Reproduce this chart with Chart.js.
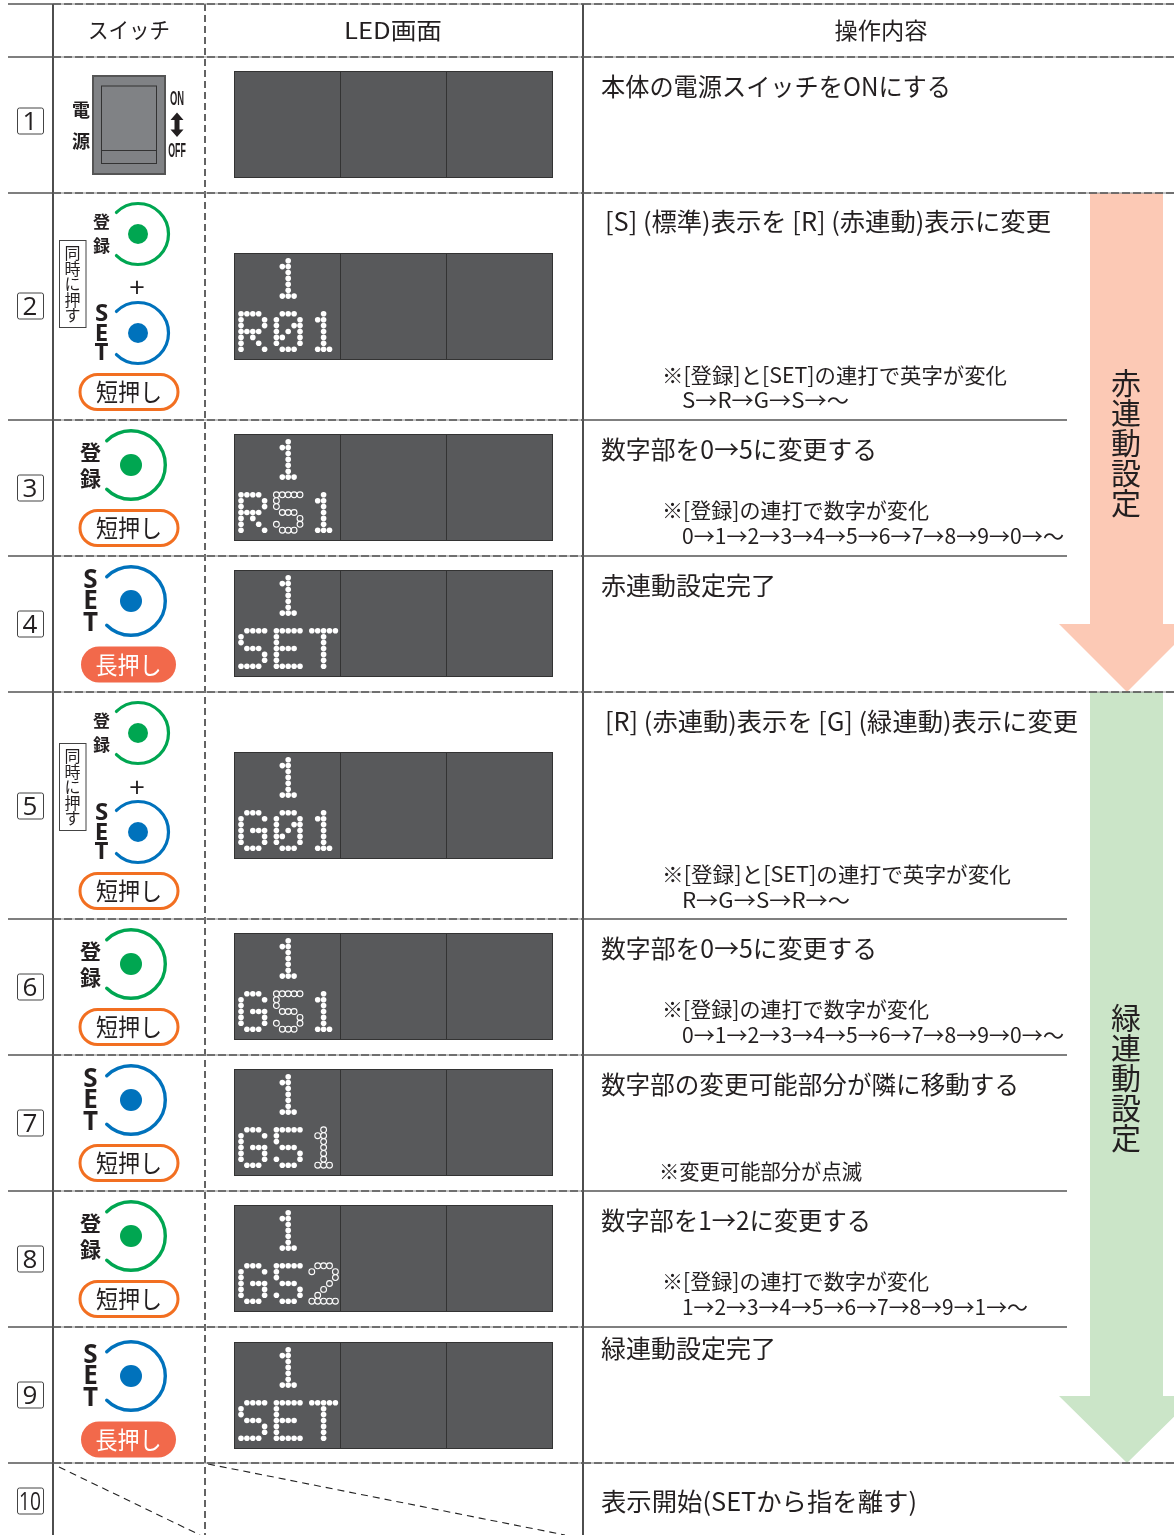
<!DOCTYPE html>
<html>
<head>
<meta charset="utf-8">
<style>
  html, body { margin: 0; padding: 0; background: #fff; }
  canvas { display: block; }
</style>
<script src="https://cdn.jsdelivr.net/npm/chart.js@4"></script>
</head>
<body>
<canvas id="canvas-1" width="1174" height="1535"></canvas>
<script>
// table content
var headers = ['スイッチ', 'LED画面', '操作内容'];
var stepNos = ['1', '2', '3', '4', '5', '6', '7', '8', '9', '10'];
var stepTitles = [
  '本体の電源スイッチをONにする',
  '[S] (標準)表示を [R] (赤連動)表示に変更',
  '数字部を0→5に変更する',
  '赤連動設定完了',
  '[R] (赤連動)表示を [G] (緑連動)表示に変更',
  '数字部を0→5に変更する',
  '数字部の変更可能部分が隣に移動する',
  '数字部を1→2に変更する',
  '緑連動設定完了',
  '表示開始(SETから指を離す)'
];
var noteLines = [
  '※[登録]と[SET]の連打で英字が変化',
  'S→R→G→S→～',
  '※[登録]の連打で数字が変化',
  '0→1→2→3→4→5→6→7→8→9→0→～',
  '※[登録]と[SET]の連打で英字が変化',
  'R→G→S→R→～',
  '※[登録]の連打で数字が変化',
  '0→1→2→3→4→5→6→7→8→9→0→～',
  '※変更可能部分が点滅',
  '※[登録]の連打で数字が変化',
  '1→2→3→4→5→6→7→8→9→1→～'
];
var ledTexts = ['', 'R01', 'R51', 'SET', 'G01', 'G51', 'G51', 'G52', 'SET'];
var ledBlink = [-1, -1, 1, -1, -1, 1, 2, 2, -1];
var sideLabels = ['赤連動設定', '緑連動設定'];

// 5x7 led font
var glyphs = {
  '1': ['..#..', '.##..', '..#..', '..#..', '..#..', '..#..', '.###.'],
  '2': ['.###.', '#...#', '....#', '...#.', '..#..', '.#...', '#####'],
  '0': ['.###.', '#...#', '#..##', '#.#.#', '##..#', '#...#', '.###.'],
  '5': ['#####', '#....', '#....', '.###.', '....#', '#...#', '.###.'],
  'R': ['####.', '#...#', '#...#', '####.', '#.#..', '#..#.', '#...#'],
  'G': ['.###.', '#...#', '#....', '#.###', '#...#', '#...#', '.###.'],
  'S': ['.####', '#....', '#....', '.###.', '....#', '....#', '####.'],
  'E': ['#####', '#....', '#....', '####.', '#....', '#....', '#####'],
  'T': ['#####', '..#..', '..#..', '..#..', '..#..', '..#..', '..#..']
};

// layout
var rowEdges = [4, 57, 193, 420, 556, 692, 919, 1055, 1191, 1327, 1463];
var fullRules = [4, 57, 193, 692, 1463];
var noBoxY = [121, 306, 488, 624, 806, 987, 1123, 1259, 1395, 1501];
var titleX = [601, 605, 601, 601, 605, 601, 601, 601, 601, 601];
var titleY = [86, 221, 449, 585, 721, 948, 1084, 1220, 1348, 1501];
var titleW = [350, 446, 276, 175, 473, 276, 418, 270, 175, 316];
var noteX = [662, 682, 662, 682, 662, 682, 662, 682, 659, 662, 682];
var noteY = [375, 400, 510, 536, 874, 900, 1009, 1035, 1171, 1281, 1307];
var noteW = [345, 167, 267, 382, 349, 168, 267, 382, 203, 267, 346];
var panelTop = [71, 253, 434, 570, 752, 933, 1069, 1205, 1342];
var panelX = [234, 340, 446, 553];
var panelH = 107;
var dotStart = [241, 7.7];
var dotPitch = 5.9;
var ringsSmall = [['reg', 138, 234], ['set', 138, 333], ['reg', 138, 733], ['set', 138, 832]];
var ringsLarge = [['reg', 131, 465], ['set', 131, 601], ['reg', 131, 964], ['set', 131, 1100], ['reg', 131, 1236], ['set', 131, 1376]];
var shortPress = [392, 528, 891, 1027, 1163, 1299];
var longPress = [664.5, 1439.5];
var togetherTop = [240, 743];
var plusY = [289, 789];
var arrowSpan = [[193, 624, 692], [692, 1396, 1463]];
var arrowColors = ['#fcc9b5', '#cbe5c8'];
var sideLabelTop = [383, 1018];

var JP = '"Noto Sans CJK JP"';
var INK = '#231f20';
var GREEN = '#00a651';
var BLUE = '#0072bc';
var PANEL = '#58595b';

function seg(x1, y1, x2, y2, color, width, dash) {
  return {
    data: [{x: x1, y: y1}, {x: x2, y: y2}],
    showLine: true,
    borderColor: color,
    borderWidth: width,
    borderDash: dash || [],
    pointRadius: 0,
    tension: 0
  };
}

var datasets = [];

// rules of the table
rowEdges.forEach(function (y) {
  var end = fullRules.indexOf(y) >= 0 ? 1174 : 1067;
  datasets.push(seg(8, y, 53, y, '#555', 1.3));
  datasets.push(seg(53, y, 583, y, '#888', 1));
  datasets.push(seg(53, y, 583, y, '#222', 1.3, [8, 3]));
  if (fullRules.indexOf(y) >= 0) {
    datasets.push(seg(583, y, end, y, '#888', 1));
    datasets.push(seg(583, y, end, y, '#222', 1.3, [8, 3]));
  } else {
    datasets.push(seg(583, y, end, y, '#555', 1.3));
  }
});
datasets.push(seg(53, 4, 53, 1535, '#222', 1.6));
datasets.push(seg(583, 4, 583, 1535, '#222', 1.6));
datasets.push(seg(205, 4, 205, 1535, '#222', 1.4, [7, 4]));
datasets.push(seg(59, 1467, 200, 1535, '#222', 1.1, [7, 5]));
datasets.push(seg(208, 1464, 565, 1535, '#222', 1.1, [7, 5]));

// led dots
var solidDots = [];
var hollowDots = [];
function putGlyph(ch, col, top, list) {
  glyphs[ch].forEach(function (line, r) {
    for (var c = 0; c < line.length; c++) {
      if (line[c] === '#') {
        list.push({x: dotStart[0] + (col + c) * dotPitch, y: top + dotStart[1] + r * dotPitch});
      }
    }
  });
}
ledTexts.forEach(function (txt, i) {
  if (!txt) return;
  putGlyph('1', 6, panelTop[i], solidDots);
  txt.split('').forEach(function (ch, k) {
    var list = ledBlink[i] === k ? hollowDots : solidDots;
    putGlyph(ch, k * 6, panelTop[i] + 9 * dotPitch, list);
  });
});
datasets.push({data: solidDots, pointRadius: 2.8, pointBackgroundColor: '#fff', pointBorderWidth: 0, showLine: false});
datasets.push({data: hollowDots, pointRadius: 2.9, pointBackgroundColor: PANEL, pointBorderColor: '#fff', pointBorderWidth: 1.1, showLine: false});

// centre of the buttons
function ringDots(list, radius) {
  ['reg', 'set'].forEach(function (kind) {
    datasets.push({
      data: list.filter(function (b) { return b[0] === kind; }).map(function (b) { return {x: b[1], y: b[2]}; }),
      pointRadius: radius,
      pointBackgroundColor: kind === 'reg' ? GREEN : BLUE,
      pointBorderWidth: 0,
      showLine: false
    });
  });
}
ringDots(ringsSmall, 10);
ringDots(ringsLarge, 11);

var underlay = {
  id: 'underlay',
  beforeDatasetsDraw: function (chart) {
    var ctx = chart.ctx;
    var X = function (v) { return chart.scales.x.getPixelForValue(v); };
    var Y = function (v) { return chart.scales.y.getPixelForValue(v); };
    ctx.save();

    // side arrows
    arrowSpan.forEach(function (a, i) {
      ctx.fillStyle = arrowColors[i];
      ctx.beginPath();
      ctx.moveTo(X(1090), Y(a[0]));
      ctx.lineTo(X(1163), Y(a[0]));
      ctx.lineTo(X(1163), Y(a[1]));
      ctx.lineTo(X(1195), Y(a[1]));
      ctx.lineTo(X(1127), Y(a[2]));
      ctx.lineTo(X(1059), Y(a[1]));
      ctx.lineTo(X(1090), Y(a[1]));
      ctx.closePath();
      ctx.fill();
    });

    // led panels
    panelTop.forEach(function (top) {
      ctx.fillStyle = PANEL;
      ctx.fillRect(X(panelX[0]), Y(top), X(panelX[3]) - X(panelX[0]), panelH);
      ctx.strokeStyle = '#333';
      ctx.lineWidth = 1;
      ctx.strokeRect(X(panelX[0]) + 0.5, Y(top) + 0.5, X(panelX[3]) - X(panelX[0]) - 1, panelH - 1);
      [1, 2].forEach(function (k) {
        ctx.beginPath();
        ctx.moveTo(X(panelX[k]) + 0.5, Y(top));
        ctx.lineTo(X(panelX[k]) + 0.5, Y(top + panelH));
        ctx.stroke();
      });
    });
    ctx.restore();
  }
};

function drawText(ctx, str, x, y, font, color, align, width, squeeze) {
  ctx.save();
  ctx.font = font;
  ctx.fillStyle = color;
  ctx.textBaseline = 'middle';
  ctx.textAlign = align || 'left';
  ctx.translate(x, y);
  if (width) {
    ctx.scale(width / ctx.measureText(str).width, 1);
  } else if (squeeze) {
    ctx.scale(squeeze, 1);
  }
  ctx.fillText(str, 0, 0);
  ctx.restore();
}

var overlay = {
  id: 'overlay',
  afterDatasetsDraw: function (chart) {
    var ctx = chart.ctx;
    var X = function (v) { return chart.scales.x.getPixelForValue(v); };
    var Y = function (v) { return chart.scales.y.getPixelForValue(v); };
    ctx.save();

    // header
    drawText(ctx, headers[0], X(129), Y(30), '22px ' + JP, INK, 'center', 82);
    drawText(ctx, headers[1], X(393), Y(30), '23px ' + JP, INK, 'center', 98);
    drawText(ctx, headers[2], X(881), Y(30), '23px ' + JP, INK, 'center', 93);

    // step numbers
    stepNos.forEach(function (n, i) {
      ctx.strokeStyle = '#444';
      ctx.lineWidth = 1;
      ctx.beginPath();
      ctx.roundRect(X(17) + 0.5, Y(noBoxY[i] - 13.5) + 0.5, 26, 26, 2);
      ctx.stroke();
      drawText(ctx, n, X(30), Y(noBoxY[i] + 1.5), '26px "Open Sans"', INK, 'center', n.length > 1 ? 22 : 0);
    });

    // right column texts
    stepTitles.forEach(function (t, i) {
      drawText(ctx, t, X(titleX[i]), Y(titleY[i]), '25px ' + JP, INK, 'left', titleW[i]);
    });
    noteLines.forEach(function (t, i) {
      drawText(ctx, t, X(noteX[i]), Y(noteY[i]), '21px ' + JP, INK, 'left', noteW[i]);
    });

    // labels on the arrows
    sideLabels.forEach(function (label, i) {
      label.split('').forEach(function (ch, k) {
        drawText(ctx, ch, X(1126), Y(sideLabelTop[i] + k * 30), '30px ' + JP, INK, 'center');
      });
    });

    // power switch
    ctx.fillStyle = '#808285';
    ctx.strokeStyle = '#555';
    ctx.lineWidth = 2;
    ctx.fillRect(X(93), Y(76), 72, 98);
    ctx.strokeRect(X(93), Y(76), 72, 98);
    ctx.strokeStyle = '#333';
    ctx.lineWidth = 1;
    ctx.strokeRect(X(101.5), Y(86), 55, 77.5);
    ctx.beginPath();
    ctx.moveTo(X(101.5), Y(150.5));
    ctx.lineTo(X(156.5), Y(150.5));
    ctx.stroke();
    drawText(ctx, '電', X(81), Y(110), 'bold 18px ' + JP, INK, 'center');
    drawText(ctx, '源', X(81), Y(141), 'bold 18px ' + JP, INK, 'center');
    drawText(ctx, 'ON', X(177), Y(99.5), 'bold 20px "Liberation Sans"', INK, 'center', 0, 0.47);
    drawText(ctx, 'OFF', X(177), Y(151.5), 'bold 20px "Liberation Sans"', INK, 'center', 0, 0.44);
    ctx.fillStyle = INK;
    ctx.beginPath();
    ctx.moveTo(X(177), Y(112.5));
    ctx.lineTo(X(183.5), Y(120));
    ctx.lineTo(X(179.5), Y(120));
    ctx.lineTo(X(179.5), Y(129.5));
    ctx.lineTo(X(183.5), Y(129.5));
    ctx.lineTo(X(177), Y(137));
    ctx.lineTo(X(170.5), Y(129.5));
    ctx.lineTo(X(174.5), Y(129.5));
    ctx.lineTo(X(174.5), Y(120));
    ctx.lineTo(X(170.5), Y(120));
    ctx.closePath();
    ctx.fill();

    // rings and their labels
    function ring(b, r, lw, lx, regGap, setGap, regFont, setFont) {
      ctx.strokeStyle = b[0] === 'reg' ? GREEN : BLUE;
      ctx.lineWidth = lw;
      ctx.lineCap = 'round';
      ctx.beginPath();
      ctx.arc(X(b[1]), Y(b[2]), r, -Math.PI * 0.75, Math.PI * 0.75);
      ctx.stroke();
      if (b[0] === 'reg') {
        drawText(ctx, '登', X(lx), Y(b[2] - regGap), regFont, INK, 'center');
        drawText(ctx, '録', X(lx), Y(b[2] + regGap), regFont, INK, 'center');
      } else {
        drawText(ctx, 'S', X(lx), Y(b[2] - setGap + 1), setFont, INK, 'center');
        drawText(ctx, 'E', X(lx), Y(b[2] + 1), setFont, INK, 'center');
        drawText(ctx, 'T', X(lx), Y(b[2] + setGap + 1), setFont, INK, 'center');
      }
    }
    ringsSmall.forEach(function (b) {
      ring(b, 30.5, 3.2, 101.5, 12, 19.5, 'bold 17px ' + JP, 'bold 24px "Open Sans"');
    });
    ringsLarge.forEach(function (b) {
      ring(b, 34.3, 3.4, 90.5, 13, 21.5, 'bold 21px ' + JP, 'bold 26px "Open Sans"');
    });

    // press buttons
    shortPress.forEach(function (y) {
      ctx.strokeStyle = '#f26f21';
      ctx.lineWidth = 3;
      ctx.beginPath();
      ctx.roundRect(X(80), Y(y - 17.5), 98, 35, 17.5);
      ctx.stroke();
      drawText(ctx, '短押し', X(129), Y(y), '24px ' + JP, INK, 'center', 66);
    });
    longPress.forEach(function (y) {
      ctx.fillStyle = '#f2694b';
      ctx.beginPath();
      ctx.roundRect(X(81), Y(y - 18), 95, 36, 18);
      ctx.fill();
      drawText(ctx, '長押し', X(128.5), Y(y), '24px ' + JP, '#fff', 'center', 66);
    });

    // press together tag
    togetherTop.forEach(function (top) {
      ctx.strokeStyle = '#444';
      ctx.lineWidth = 1;
      ctx.strokeRect(X(59.5), Y(top) + 0.5, 26.5, 87);
      '同時に押す'.split('').forEach(function (ch, k) {
        drawText(ctx, ch, X(72.5), Y(top + 13 + k * 15.5), '16px ' + JP, INK, 'center');
      });
    });
    plusY.forEach(function (y) {
      drawText(ctx, '+', X(137), Y(y), '28px "Open Sans"', INK, 'center');
    });

    ctx.restore();
  }
};

var ctx = document.getElementById('canvas-1');
var chart = new Chart(ctx, {
  type: 'scatter',
  data: {datasets: datasets},
  options: {
    responsive: false,
    animation: false,
    layout: {padding: 0, autoPadding: false},
    plugins: {legend: {display: false}, tooltip: {enabled: false}},
    scales: {
      x: {type: 'linear', display: false, min: 0, max: 1174},
      y: {type: 'linear', display: false, min: 0, max: 1535, reverse: true}
    }
  },
  plugins: [underlay, overlay]
});
</script>
</body>
</html>
